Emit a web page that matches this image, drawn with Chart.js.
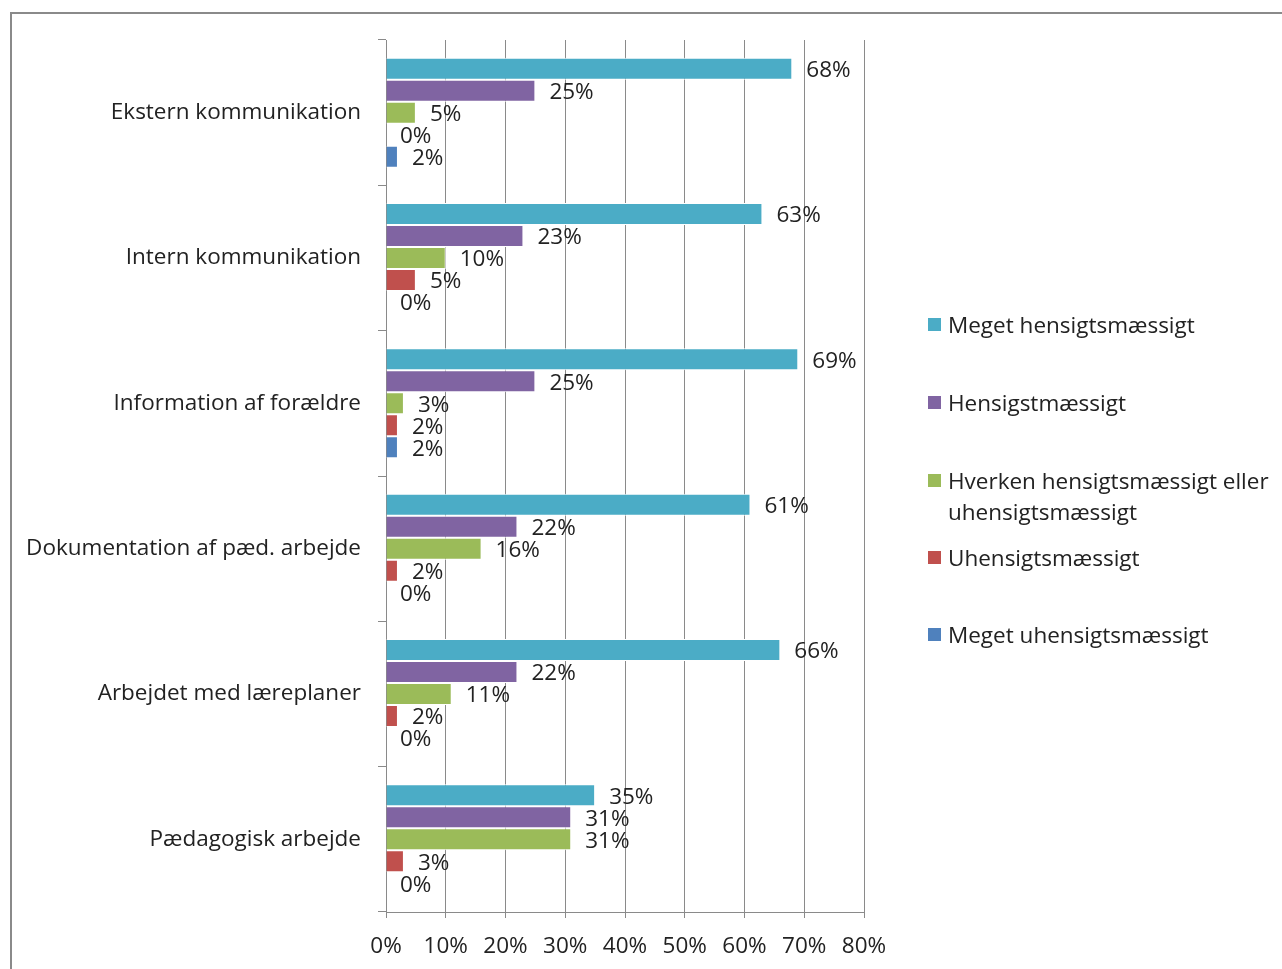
<!DOCTYPE html>
<html>
<head>
<meta charset="utf-8">
<script src="https://cdn.jsdelivr.net/npm/chart.js@4.4.1/dist/chart.umd.min.js"></script>
<style>
  html, body { margin: 0; padding: 0; background: #fff; overflow: hidden; }
  #frame { position: absolute; left: 10px; top: 12px; width: 1400px; height: 1100px; border-left: 2px solid #8a8a8a; border-top: 2px solid #8a8a8a; }
  #wrap { position: absolute; left: 0; top: 0; width: 1282px; height: 969px; }
  #legend { position: absolute; left: 928px; top: 0; font-family: "Open Sans", Lato, sans-serif; font-size: 22.5px; color: #222; }
  .item { position: absolute; left: 0; white-space: nowrap; line-height: 31px; }
  .box { position: absolute; left: 0; width: 13px; height: 13px; }
  .txt { position: absolute; left: 20px; }
</style>
</head>
<body>
<div id="frame"></div>
<div id="wrap"><canvas id="c" width="1282" height="969"></canvas></div>
<div id="legend"></div>
<script>
const categories = [
  "Ekstern kommunikation",
  "Intern kommunikation",
  "Information af forældre",
  "Dokumentation af pæd. arbejde",
  "Arbejdet med læreplaner",
  "Pædagogisk arbejde"
];
const seriesNames = [
  "Meget hensigtsmæssigt",
  "Hensigstmæssigt",
  "Hverken hensigtsmæssigt eller uhensigtsmæssigt",
  "Uhensigtsmæssigt",
  "Meget uhensigtsmæssigt"
];
const megetHensigtsmaessigt = [68, 63, 69, 61, 66, 35];
const hensigtsmaessigt      = [25, 23, 25, 22, 22, 31];
const hverken               = [5, 10, 3, 16, 11, 31];
const uhensigtsmaessigt     = [0, 5, 2, 2, 2, 3];
const megetUhensigtsmaessigt= [2, 0, 2, 0, 0, 0];
const xTicks = [0, 10, 20, 30, 40, 50, 60, 70, 80];
const colors = ["#4bacc6", "#8064a2", "#9bbb59", "#c0504d", "#4f81bd"];

const seriesValues = [megetHensigtsmaessigt, hensigtsmaessigt, hverken, uhensigtsmaessigt, megetUhensigtsmaessigt];
const FONT = '"Open Sans", Lato, sans-serif';
const FS = 22.5;

const dataLabels = {
  id: 'dataLabels',
  afterDatasetsDraw(chart) {
    const ctx = chart.ctx;
    ctx.save();
    ctx.font = FS + 'px ' + FONT;
    ctx.fillStyle = '#222';
    ctx.textAlign = 'left';
    ctx.textBaseline = 'middle';
    chart.data.datasets.forEach((ds, i) => {
      const meta = chart.getDatasetMeta(i);
      meta.data.forEach((el, j) => {
        ctx.fillText(ds.data[j] + '%', el.x + 14, el.y + 2);
      });
    });
    ctx.restore();
  }
};

new Chart(document.getElementById('c'), {
  type: 'bar',
  data: {
    labels: categories,
    datasets: seriesNames.map((n, i) => ({
      label: n,
      data: seriesValues[i],
      backgroundColor: colors[i],
      borderColor: '#ffffff',
      borderWidth: 1,
      borderSkipped: 'start',
      categoryPercentage: 0.757,
      barPercentage: 1.0
    }))
  },
  options: {
    indexAxis: 'y',
    responsive: false,
    animation: false,
    events: [],
    layout: { padding: { top: 40, right: 418, bottom: 0, left: 0 } },
    plugins: { legend: { display: false }, tooltip: { enabled: false } },
    scales: {
      x: {
        min: 0, max: 80,
        afterFit: s => { s.height = 57; },
        afterBuildTicks: s => { s.ticks = xTicks.map(v => ({ value: v })); },
        ticks: { callback: v => v + '%', color: '#222', font: { family: FONT, size: FS }, padding: 15, maxRotation: 0 },
        grid: { color: '#8a8a8a', lineWidth: 1, tickLength: 6, drawOnChartArea: true },
        border: { color: '#8a8a8a', width: 1 }
      },
      y: {
        afterFit: s => { s.width = 386; },
        ticks: { color: '#222', font: { family: FONT, size: FS }, padding: 17 },
        grid: { color: '#8a8a8a', lineWidth: 1, tickLength: 8, drawOnChartArea: false, offset: true },
        border: { color: '#8a8a8a', width: 1 }
      }
    }
  },
  plugins: [dataLabels]
});

// HTML legend
const legendTops = [324, 402, 480, 557, 634];
const leg = document.getElementById('legend');
const legendLines = [
  ["Meget hensigtsmæssigt"],
  ["Hensigstmæssigt"],
  ["Hverken hensigtsmæssigt eller", "uhensigtsmæssigt"],
  ["Uhensigtsmæssigt"],
  ["Meget uhensigtsmæssigt"]
];
seriesNames.forEach((n, i) => {
  const it = document.createElement('div');
  it.className = 'item';
  it.style.top = (legendTops[i] - 15.5) + 'px';
  const b = document.createElement('div');
  b.className = 'box';
  b.style.background = colors[i];
  b.style.top = '9px';
  const t = document.createElement('div');
  t.className = 'txt';
  t.innerHTML = legendLines[i].join('<br>');
  it.appendChild(b); it.appendChild(t);
  leg.appendChild(it);
});
</script>
</body>
</html>
